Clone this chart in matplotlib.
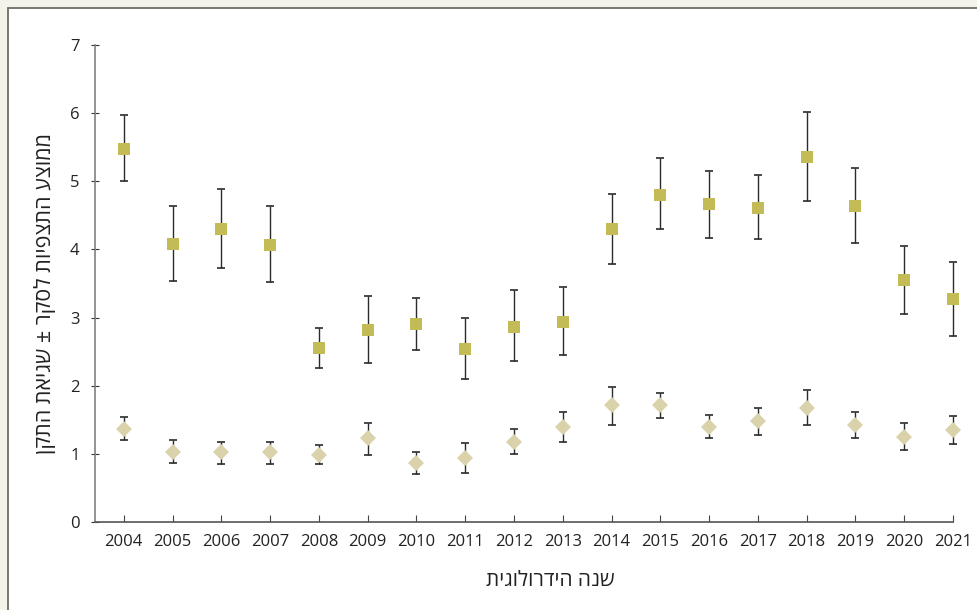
import matplotlib
matplotlib.use("Agg")
import matplotlib.pyplot as plt
from matplotlib.patches import Rectangle
import numpy as np

plt.rcParams['font.family'] = ['Open Sans', 'DejaVu Sans']

years = [2004, 2005, 2006, 2007, 2008, 2009, 2010, 2011, 2012,
         2013, 2014, 2015, 2016, 2017, 2018, 2019, 2020, 2021]

# upper series (squares): mean, lower and upper end of the error bar
sq_mean = [5.48, 4.08, 4.30, 4.07, 2.56, 2.82, 2.91, 2.54, 2.86,
           2.94, 4.30, 4.80, 4.67, 4.61, 5.36, 4.64, 3.55, 3.27]
sq_low = [5.00, 3.53, 3.73, 3.52, 2.26, 2.33, 2.52, 2.10, 2.36,
          2.45, 3.78, 4.30, 4.17, 4.15, 4.71, 4.09, 3.05, 2.73]
sq_high = [5.98, 4.63, 4.89, 4.63, 2.84, 3.31, 3.28, 3.00, 3.40,
           3.45, 4.81, 5.34, 5.15, 5.09, 6.02, 5.19, 4.05, 3.81]

# lower series (diamonds)
dm_mean = [1.37, 1.03, 1.02, 1.02, 0.99, 1.23, 0.86, 0.94, 1.17,
           1.39, 1.71, 1.71, 1.40, 1.48, 1.68, 1.42, 1.25, 1.35]
dm_low = [1.20, 0.86, 0.85, 0.85, 0.85, 0.99, 0.70, 0.72, 1.00,
          1.17, 1.43, 1.52, 1.24, 1.27, 1.43, 1.24, 1.05, 1.14]
dm_high = [1.54, 1.20, 1.18, 1.18, 1.13, 1.46, 1.02, 1.16, 1.36,
           1.62, 1.98, 1.89, 1.57, 1.68, 1.93, 1.61, 1.45, 1.55]

x_label = "שנה הידרולוגית"
y_label = "ממוצע התצפיות לסקר ± שגיאת התקן"


def rtl(s):
    # matplotlib has no bidi support, so flip the Hebrew by hand
    return s[::-1]


fig = plt.figure(figsize=(9.78, 6.10), dpi=100, facecolor="#f3f3ea")
fig.patches.append(Rectangle((8 / 978, -0.1), 1.2, 1.1 - 8 / 610,
                             transform=fig.transFigure, facecolor="white",
                             edgecolor="#6e6e66", linewidth=1.3, zorder=-5))

ax = fig.add_axes([95 / 978, 1 - 522 / 610, (953 - 95) / 978, (522 - 45) / 610])
ax.set_facecolor("none")

x = np.arange(len(years))

sq_mean = np.array(sq_mean)
dm_mean = np.array(dm_mean)
sq_err = [sq_mean - np.array(sq_low), np.array(sq_high) - sq_mean]
dm_err = [dm_mean - np.array(dm_low), np.array(dm_high) - dm_mean]

for mean, err in [(sq_mean, sq_err), (dm_mean, dm_err)]:
    eb = ax.errorbar(x, mean, yerr=err, fmt="none", ecolor="#2b2b2b",
                     elinewidth=1, capsize=3, capthick=1.2, zorder=2)
    for art in eb.lines[1] + eb.lines[2]:
        art.set_clip_on(False)
    for art in eb.lines[2]:
        art.set_clip_on(False)

ax.plot(x, sq_mean, linestyle="none", marker="s", markersize=8.8,
        color="#c3bb55", markeredgewidth=0, zorder=3, clip_on=False)
ax.plot(x, dm_mean, linestyle="none", marker="D", markersize=8.0,
        color="#d9d2aa", markeredgewidth=0, zorder=3, clip_on=False)

ax.set_xlim(-0.59, 17)
ax.set_ylim(0, 7)
ax.set_xticks(x)
ax.set_xticklabels([str(y) for y in years])
ax.set_yticks(range(8))

for side in ["top", "right"]:
    ax.spines[side].set_visible(False)
ax.spines["left"].set_color("#808080")
ax.spines["bottom"].set_color("#555555")
ax.spines["left"].set_linewidth(1.2)
ax.spines["bottom"].set_linewidth(1.2)

ax.tick_params(axis="x", direction="in", length=5, color="#444444",
               labelsize=12, labelcolor="#222222", pad=9)
ax.tick_params(axis="y", direction="inout", length=6, color="#333333",
               labelsize=12, labelcolor="#222222", pad=8)

fig.text(550 / 978, 1 - 580 / 610, rtl(x_label), ha="center", va="center",
         fontsize=15, color="#222222")
fig.text(45 / 978, 1 - 294 / 610, rtl(y_label), ha="center", va="center",
         rotation=90, fontsize=15.5, color="#222222")

fig.savefig("out.png", dpi=100, facecolor=fig.get_facecolor())
